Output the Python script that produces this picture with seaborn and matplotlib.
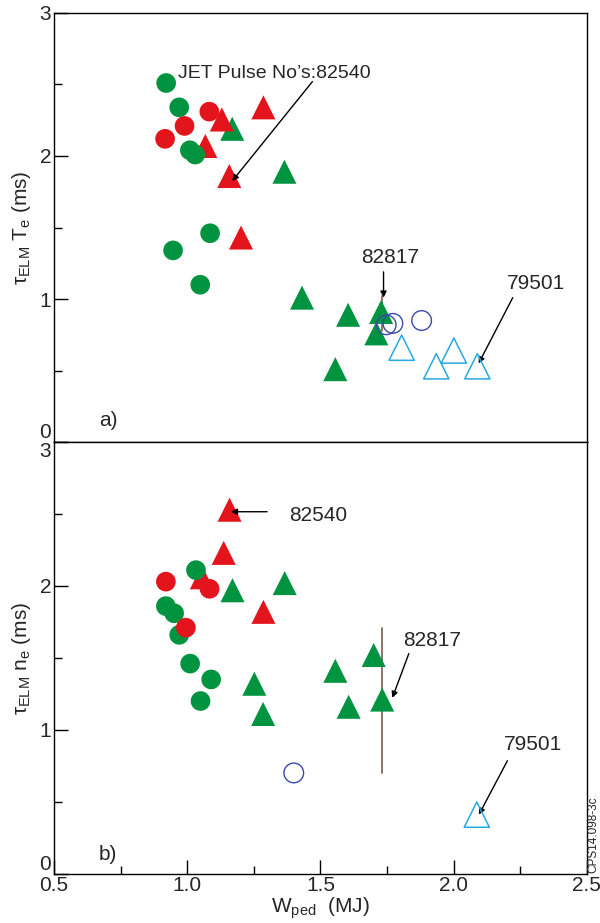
import matplotlib
matplotlib.use("Agg")
import matplotlib.pyplot as plt
import seaborn as sns
from matplotlib.ticker import MultipleLocator

sns.set_theme(style="white")
plt.rcParams['font.family'] = ['Liberation Sans', 'DejaVu Sans']
plt.rcParams['mathtext.fontset'] = 'custom'
plt.rcParams['mathtext.rm'] = 'Liberation Sans'
plt.rcParams['mathtext.it'] = 'Liberation Sans'

# ---- panel a) tau_ELM Te ----
a_gc_x = [0.921, 0.97, 1.01, 1.03, 1.086, 0.947, 1.049]
a_gc_y = [2.51, 2.34, 2.04, 2.01, 1.46, 1.34, 1.10]
a_rc_x = [0.917, 0.99, 1.083]
a_rc_y = [2.12, 2.21, 2.31]
a_rt_x = [1.13, 1.286, 1.068, 1.158, 1.202]
a_rt_y = [2.255, 2.34, 2.07, 1.86, 1.43]
a_gt_x = [1.169, 1.365, 1.431, 1.604, 1.728, 1.71, 1.556]
a_gt_y = [2.19, 1.89, 1.01, 0.89, 0.91, 0.76, 0.51]
a_bc_x = [1.747, 1.772, 1.88]
a_bc_y = [0.82, 0.83, 0.85]
a_ct_x = [1.805, 2.001, 1.935, 2.089]
a_ct_y = [0.66, 0.64, 0.53, 0.53]
a_err_x = 1.732
a_err_lo, a_err_hi = 0.78, 1.02

# ---- panel b) tau_ELM ne ----
b_gc_x = [1.033, 0.92, 0.951, 0.97, 1.011, 1.09, 1.05]
b_gc_y = [2.11, 1.86, 1.81, 1.66, 1.46, 1.35, 1.20]
b_rc_x = [0.92, 1.084, 0.995]
b_rc_y = [2.03, 1.98, 1.71]
b_rt_x = [1.159, 1.137, 1.055, 1.286]
b_rt_y = [2.53, 2.23, 2.06, 1.82]
b_gt_x = [1.17, 1.366, 1.252, 1.285, 1.556, 1.70, 1.606, 1.732]
b_gt_y = [1.97, 2.02, 1.32, 1.11, 1.41, 1.52, 1.16, 1.21]
b_bc_x = [1.40]
b_bc_y = [0.70]
b_ct_x = [2.087]
b_ct_y = [0.41]
b_err_x = 1.732
b_err_lo, b_err_hi = 0.70, 1.71

y_ticks = [0, 1, 2, 3]
y_tick_labels = ['0', '1', '2', '3']

GREEN = "#009440"
RED = "#E3141B"
NAVY = "#3A4AA8"
CYAN = "#27A9E1"
BROWN = "#7A5C52"

fig = plt.figure(figsize=(6, 9.23), dpi=100)
ax1 = fig.add_axes([0.09, 0.521, 0.888, 0.465])
ax2 = fig.add_axes([0.09, 0.0535, 0.888, 0.4675])

def draw(ax, gc, rc, rt, gt, bc, ct, err):
    ex, lo, hi = err
    ax.plot([ex, ex], [lo, hi], color=BROWN, lw=1.2, zorder=1)
    sns.scatterplot(x=gt[0], y=gt[1], ax=ax, marker='^', s=300, color=GREEN,
                    edgecolor='none', zorder=2)
    sns.scatterplot(x=rt[0], y=rt[1], ax=ax, marker='^', s=300, color=RED,
                    edgecolor='none', zorder=2)
    sns.scatterplot(x=gc[0], y=gc[1], ax=ax, marker='o', s=200, color=GREEN,
                    edgecolor='none', zorder=3)
    sns.scatterplot(x=rc[0], y=rc[1], ax=ax, marker='o', s=200, color=RED,
                    edgecolor='none', zorder=3)
    sns.scatterplot(x=bc[0], y=bc[1], ax=ax, marker='o', s=200, facecolor='none',
                    edgecolor=NAVY, linewidth=1.0, zorder=4)
    sns.scatterplot(x=ct[0], y=ct[1], ax=ax, marker='^', s=330, facecolor='none',
                    edgecolor=CYAN, linewidth=1.1, zorder=4)
    ax.set_xlim(0.5, 2.5)
    ax.set_ylim(0, 3)
    ax.xaxis.set_major_locator(MultipleLocator(0.5))
    ax.xaxis.set_minor_locator(MultipleLocator(0.25))
    ax.set_yticks(y_ticks)
    ax.set_yticklabels(y_tick_labels)
    ax.yaxis.set_minor_locator(MultipleLocator(0.5))
    ax.tick_params(which='both', direction='in', left=True, bottom=True,
                   top=False, right=False, labelsize=15, pad=2, color='black')
    ax.tick_params(which='major', length=10, width=1)
    ax.tick_params(which='minor', length=6, width=1)
    for sp in ax.spines.values():
        sp.set_color('black')
        sp.set_linewidth(1.0)

draw(ax1, (a_gc_x, a_gc_y), (a_rc_x, a_rc_y), (a_rt_x, a_rt_y),
     (a_gt_x, a_gt_y), (a_bc_x, a_bc_y), (a_ct_x, a_ct_y),
     (a_err_x, a_err_lo, a_err_hi))
draw(ax2, (b_gc_x, b_gc_y), (b_rc_x, b_rc_y), (b_rt_x, b_rt_y),
     (b_gt_x, b_gt_y), (b_bc_x, b_bc_y), (b_ct_x, b_ct_y),
     (b_err_x, b_err_lo, b_err_hi))

# vertical alignment of end tick labels, as in the reference
ax1.get_yticklabels()[0].set_va('bottom')
ax2.get_yticklabels()[0].set_va('bottom')
ax2.get_yticklabels()[3].set_va('top')

ax1.tick_params(axis='x', which='both', length=0, labelbottom=False)
ax1.set_xlabel('')
ax2.set_xlabel(r'W$_{\mathrm{ped}}$  (MJ)', fontsize=15, labelpad=0)
ax1.set_ylabel(r'$\tau_{\mathrm{ELM}}$ T$_{\mathrm{e}}$ (ms)', fontsize=15, labelpad=5)
ax2.set_ylabel(r'$\tau_{\mathrm{ELM}}$ n$_{\mathrm{e}}$ (ms)', fontsize=15, labelpad=5)

ax1.text(0.669, 0.154, 'a)', fontsize=15, va='center')
ax2.text(0.669, 0.13, 'b)', fontsize=15, va='center')

arrow = dict(arrowstyle='-|>', color='black', lw=1.0, mutation_scale=9,
             shrinkA=0, shrinkB=0)
# panel a annotations
ax1.text(0.966, 2.58, "JET Pulse No\u2019s:82540", fontsize=14, va='center', ha='left')
ax1.annotate('', xy=(1.169, 1.825), xytext=(1.47, 2.52), arrowprops=arrow)
ax1.text(1.763, 1.287, "82817", fontsize=15, ha='center', va='center')
ax1.annotate('', xy=(1.737, 1.01), xytext=(1.737, 1.19), arrowprops=arrow)
ax1.text(2.308, 1.11, "79501", fontsize=15, ha='center', va='center')
ax1.annotate('', xy=(2.094, 0.55), xytext=(2.222, 1.01), arrowprops=arrow)

# panel b annotations
ax2.text(1.49, 2.49, "82540", fontsize=15, ha='center', va='center')
ax2.annotate('', xy=(1.164, 2.516), xytext=(1.30, 2.516), arrowprops=arrow)
ax2.text(1.92, 1.62, "82817", fontsize=15, ha='center', va='center')
ax2.annotate('', xy=(1.77, 1.222), xytext=(1.832, 1.53), arrowprops=arrow)
ax2.text(2.297, 0.90, "79501", fontsize=15, ha='center', va='center')
ax2.annotate('', xy=(2.095, 0.41), xytext=(2.202, 0.785), arrowprops=arrow)

fig.text(0.9885, 0.0545, 'CPS14.098-3c', rotation=90, fontsize=8.5,
         ha='center', va='bottom')

fig.savefig('out.png', dpi=100, facecolor='white')
